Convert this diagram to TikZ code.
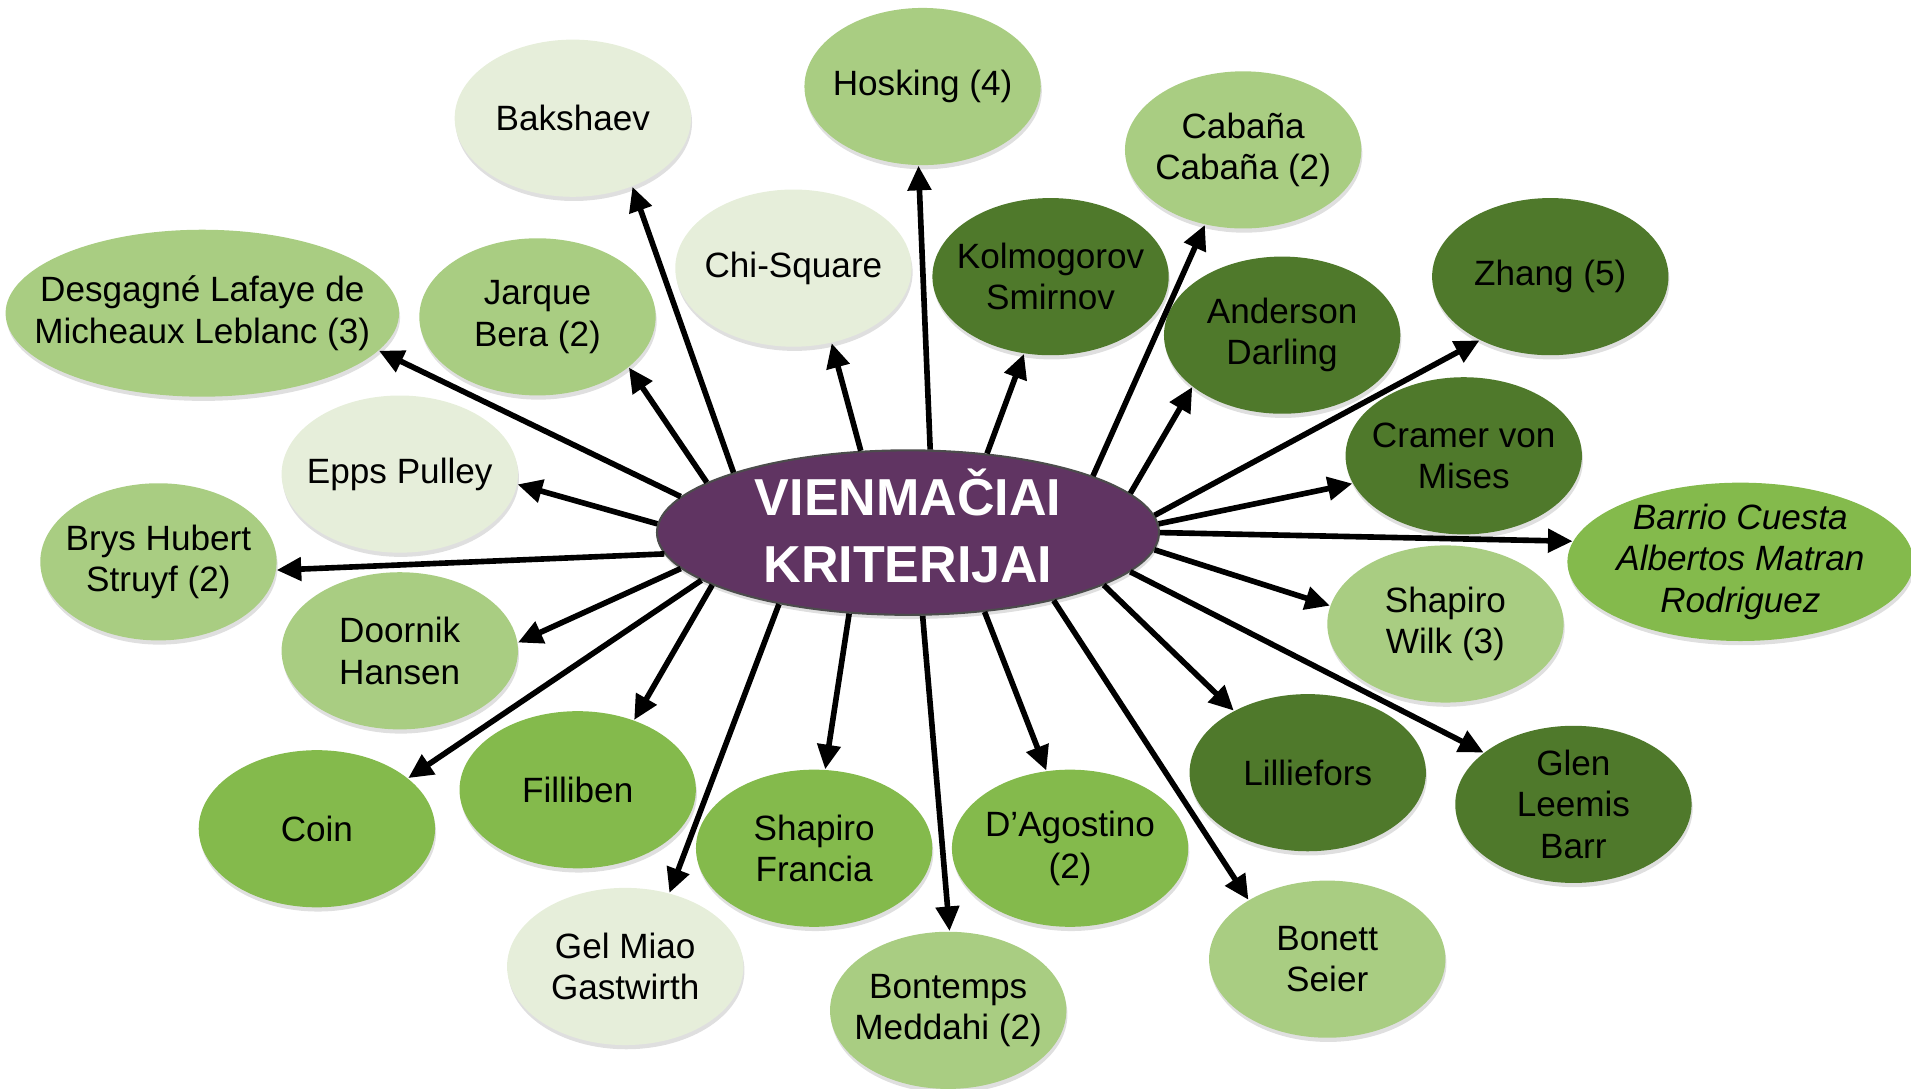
\documentclass[tikz,border=0pt]{standalone}
\usepackage{fontspec}
\setmainfont{Liberation Sans}
\usetikzlibrary{shapes.geometric,arrows.meta,shadows}
\definecolor{paleG}{RGB}{230,238,218}
\definecolor{lightG}{RGB}{169,205,130}
\definecolor{midG}{RGB}{132,186,76}
\definecolor{darkG}{RGB}{79,121,43}
\definecolor{hub}{RGB}{96,52,98}
\tikzset{
  ell/.style={ellipse, draw=none, inner sep=0pt,
    minimum width=2.364cm, minimum height=1.572cm,
    drop shadow={shadow xshift=0.3pt, shadow yshift=-1.2pt, opacity=0.25}},
  lbl/.style={align=center, font=\fontsize{10}{11.8}\selectfont, text=black},
  pale/.style={ell, fill=paleG},
  light/.style={ell, fill=lightG},
  mid/.style={ell, fill=midG},
  dark/.style={ell, fill=darkG},
  arr/.style={line width=1.6pt, -{Triangle[length=7pt,width=6.5pt]}}
}
\begin{document}
\begin{tikzpicture}[x=0.012187cm, y=-0.012187cm]
\useasboundingbox (0,0) rectangle (1568,893);

% central hub
\node[ellipse, fill=hub, draw=black!70, line width=0.6pt, inner sep=0pt,
      minimum width=5.021cm, minimum height=1.645cm,
      drop shadow={shadow xshift=0.3pt, shadow yshift=-1.2pt, opacity=0.25},
      label={[align=center, text=white, yshift=1.8pt, font=\fontsize{14.8}{19}\selectfont\bfseries]center:{VIENMAČIAI\\KRITERIJAI}}]
      (c) at (745,437) {};

% surrounding criteria
\node[pale,  label={[lbl]center:Bakshaev}] (bak) at (470,97) {};
\node[light, label={[lbl]center:Hosking (4)}] (hos) at (757,71) {};
\node[light, label={[lbl]center:{Cabaña\\Cabaña (2)}}] (cab) at (1020,123) {};
\node[pale,  label={[lbl]center:Chi-Square}] (chi) at (651,220) {};
\node[dark,  label={[lbl]center:{Kolmogorov\\Smirnov}}] (kol) at (862,227) {};
\node[dark,  label={[lbl]center:Zhang (5)}] (zh) at (1272,227) {};
\node[dark,  label={[lbl]center:{Anderson\\Darling}}] (ad) at (1052,275) {};
\node[light, minimum width=3.936cm, minimum height=1.670cm,
      label={[lbl]center:{Desgagné Lafaye de\\Micheaux Leblanc (3)}}] (des) at (166,257) {};
\node[light, label={[lbl]center:{Jarque\\Bera (2)}}] (jb) at (441,260) {};
\node[dark,  label={[lbl]center:{Cramer von\\Mises}}] (cvm) at (1201,374) {};
\node[pale,  label={[lbl]center:Epps Pulley}] (ep) at (328,389) {};
\node[light, label={[lbl]center:{Brys Hubert\\Struyf (2)}}] (bhs) at (130,461) {};
\node[mid, minimum width=3.461cm, minimum height=1.584cm,
      label={[lbl, font=\fontsize{10}{11.8}\selectfont\itshape]center:{Barrio Cuesta\\Albertos Matran\\Rodriguez}}] (bar) at (1428,461) {};
\node[light, label={[lbl]center:{Shapiro\\Wilk (3)}}] (sw) at (1186,512) {};
\node[light, label={[lbl]center:{Doornik\\Hansen}}] (dh) at (328,534) {};
\node[dark,  label={[lbl]center:Lilliefors}] (lil) at (1073,634) {};
\node[dark,  label={[lbl]center:{Glen\\Leemis\\Barr}}] (glb) at (1291,660) {};
\node[mid,   label={[lbl]center:Coin}] (coin) at (260,680) {};
\node[mid,   label={[lbl]center:Filliben}] (fil) at (474,648) {};
\node[mid,   label={[lbl]center:{Shapiro\\Francia}}] (sf) at (668,696) {};
\node[mid,   label={[lbl]center:{D’Agostino\\(2)}}] (dag) at (878,696) {};
\node[light, label={[lbl]center:{Bonett\\Seier}}] (bs) at (1089,787) {};
\node[pale,  label={[lbl]center:{Gel Miao\\Gastwirth}}] (gmg) at (513,793) {};
\node[light, label={[lbl]center:{Bontemps\\Meddahi (2)}}] (bm) at (778,829) {};

% connectors from the hub
\draw[arr] (c.161.6) -- (bak.-49.6);
\draw[arr] (c.75) -- (hos.267.4);
\draw[arr] (c.17.4) -- (cab.243.8);
\draw[arr] (c.120.8) -- (chi.-63.1);
\draw[arr] (c.45.9) -- (kol.251.6);
\draw[arr] (c.4.8) -- (zh.222.9);
\draw[arr] (c.10) -- (ad.210.2);
\draw[arr] (c.171.2) -- (des.-12.1);
\draw[arr] (c.166.8) -- (jb.-29);
\draw[arr] (c.2) -- (cvm.194.5);
\draw[arr] (c.178) -- (ep.-5.3);
\draw[arr] (c.185.4) -- (bhs.-4);
\draw[arr] (c.-0.3) -- (bar.173.5);
\draw[arr] (c.-4.2) -- (sw.171.1);
\draw[arr] (c.189) -- (dh.4.6);
\draw[arr] (c.-15.7) -- (lil.140.3);
\draw[arr] (c.-10.1) -- (glb.150.6);
\draw[arr] (c.193) -- (coin.29.6);
\draw[arr] (c.195.5) -- (fil.51.1);
\draw[arr] (c.234.8) -- (sf.82.1);
\draw[arr] (c.314.6) -- (dag.107.9);
\draw[arr] (c.-25) -- (bs.143.7);
\draw[arr] (c.209.3) -- (gmg.59);
\draw[arr] (c.280.7) -- (bm.89);
\end{tikzpicture}
\end{document}
